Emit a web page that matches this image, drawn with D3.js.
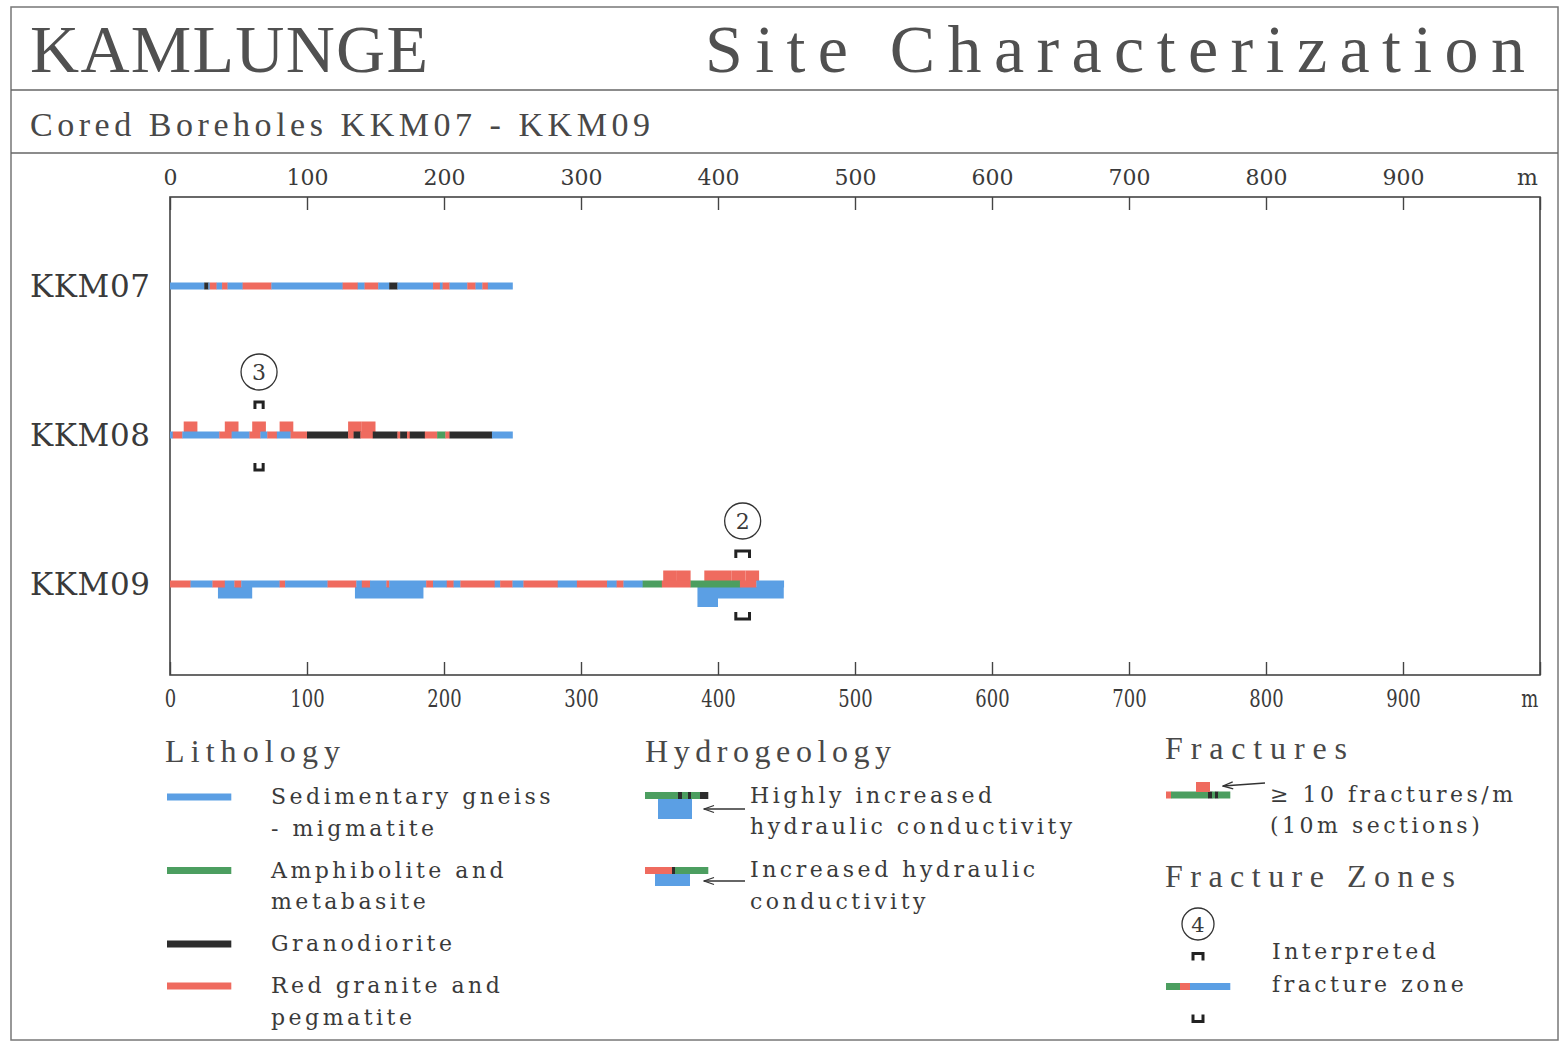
<!DOCTYPE html>
<html>
<head>
<meta charset="utf-8">
<script src="https://cdn.jsdelivr.net/npm/d3@7"></script>
<style>
body { margin: 0; background: #fff; }
text { fill: #3a3a3a; }
</style>
</head>
<body>
<div id="chart"></div>
<script>
// rock codes: S sedimentary gneiss, A amphibolite, G granodiorite, R red granite
const boreholes = ['KKM07', 'KKM08', 'KKM09'];
const axisTicks = [0, 100, 200, 300, 400, 500, 600, 700, 800, 900, 1000];

const kkm07Litho = [[0,25,'S'],[25,28,'G'],[28,29,'S'],[29,34,'R'],[34,38,'S'],[38,42,'R'],[42,53,'S'],
  [53,74,'R'],[74,126,'S'],[126,137,'R'],[137,142,'S'],[142,152,'R'],[152,160,'S'],[160,166,'G'],
  [166,192,'S'],[192,197,'R'],[197,199,'S'],[199,204,'R'],[204,217,'S'],[217,223,'R'],[223,228,'S'],
  [228,232,'R'],[232,250,'S']];
const kkm08Litho = [[0,2,'S'],[2,9,'R'],[9,36,'S'],[36,45,'R'],[45,58,'S'],[58,66,'R'],[66,71,'S'],
  [71,78,'R'],[78,88,'S'],[88,100,'R'],[100,130,'G'],[130,134,'R'],[134,139,'G'],[139,148,'R'],
  [148,166,'G'],[166,168,'R'],[168,173,'G'],[173,175,'R'],[175,186,'G'],[186,195,'R'],[195,201,'A'],
  [201,204,'R'],[204,235,'G'],[235,250,'S']];
const kkm09Litho = [[0,15,'R'],[15,31,'S'],[31,40,'R'],[40,47,'S'],[47,52,'R'],[52,80,'S'],[80,84,'R'],
  [84,115,'S'],[115,136,'R'],[136,140,'S'],[140,146,'R'],[146,158,'S'],[158,160,'R'],[160,187,'S'],
  [187,192,'R'],[192,202,'S'],[202,207,'R'],[207,212,'S'],[212,237,'R'],[237,241,'S'],[241,250,'R'],
  [250,258,'S'],[258,283,'R'],[283,297,'S'],[297,319,'R'],[319,326,'S'],[326,331,'R'],[331,345,'S'],
  [345,359,'A'],[359,380,'R'],[380,416,'A'],[416,428,'R'],[428,448,'S']];

// start of 10 m sections with >= 10 fractures/m
const kkm07Fract = [];
const kkm08Fract = [10, 40, 60, 80, 130, 140];
const kkm09Fract = [360, 370, 390, 400, 410, 420];

// hydraulic conductivity: 'inc' increased, 'high' highly increased
const kkm07Hydro = [];
const kkm08Hydro = [];
const kkm09Hydro = [[35,60,'inc'],[135,185,'inc'],[385,400,'high'],[400,448,'inc']];

const fractureZones = [
  {hole: 'KKM08', from: 62, to: 68, id: 3},
  {hole: 'KKM09', from: 413, to: 423, id: 2}
];

const lithoLegend = [
  {rock: 'S', lines: ['Sedimentary gneiss', '- migmatite']},
  {rock: 'A', lines: ['Amphibolite and', 'metabasite']},
  {rock: 'G', lines: ['Granodiorite']},
  {rock: 'R', lines: ['Red granite and', 'pegmatite']}
];
// legend samples, in sample units (0..64)
const hydroHighSample = [[0,33,'A'],[33,37,'G'],[37,43,'A'],[43,46,'G'],[46,55,'A'],[55,63,'G']];
const hydroIncSample = [[0,27,'R'],[27,30,'G'],[30,63,'A']];
const fractSample = [[0,5,'R'],[5,42,'A'],[42,46,'G'],[46,49,'A'],[49,52,'G'],[52,64,'A']];
const zoneSample = [[0,14,'A'],[14,24,'R'],[24,64,'S']];

const rockColor = {S: '#5b9fe4', A: '#4c9e60', G: '#2d2d2d', R: '#ef6b5f'};
const holes = {
  KKM07: {litho: kkm07Litho, fract: kkm07Fract, hydro: kkm07Hydro},
  KKM08: {litho: kkm08Litho, fract: kkm08Fract, hydro: kkm08Hydro},
  KKM09: {litho: kkm09Litho, fract: kkm09Fract, hydro: kkm09Hydro}
};

const serif = 'DejaVu Serif';
const thin = 'Liberation Serif';
const coreH = 7;

var svg = d3.select('#chart').append('svg')
    .attr('width', 1562).attr('height', 1044);

svg.append('defs').append('marker')
    .attr('id', 'arrow').attr('viewBox', '-11 -5 12 10')
    .attr('refX', 0).attr('refY', 0)
    .attr('markerWidth', 12).attr('markerHeight', 10)
    .attr('markerUnits', 'userSpaceOnUse').attr('orient', 'auto')
    .append('path').attr('d', 'M-10,-3.5L0,0L-10,3.5')
    .attr('fill', 'none').attr('stroke', '#333').attr('stroke-width', 1.3);

// header frame
svg.append('rect').attr('x', 11).attr('y', 7).attr('width', 1547).attr('height', 1033)
    .attr('fill', 'none').attr('stroke', '#777').attr('stroke-width', 1.5);
[90, 153].forEach((yy) => {
    svg.append('line').attr('x1', 11).attr('x2', 1558).attr('y1', yy).attr('y2', yy)
        .attr('stroke', '#666').attr('stroke-width', 1.5);
});
svg.append('text').attr('x', 30).attr('y', 72).attr('font-family', thin).attr('font-size', 68)
    .style('fill', '#505050')
    .attr('textLength', 398).attr('lengthAdjust', 'spacing').text('KAMLUNGE');
svg.append('text').attr('x', 705).attr('y', 72).attr('font-family', thin).attr('font-size', 68)
    .style('fill', '#505050')
    .attr('textLength', 820).attr('lengthAdjust', 'spacing').text('Site Characterization');
svg.append('text').attr('x', 30).attr('y', 136).attr('font-family', thin).attr('font-size', 34)
    .style('fill', '#484848')
    .attr('textLength', 620).attr('lengthAdjust', 'spacing').text('Cored Boreholes KKM07 - KKM09');

// scales
var x = d3.scaleLinear().domain([0, 1000]).range([170, 1540]);
var y = d3.scalePoint().domain(boreholes).range([286, 584]);

svg.append('rect').attr('x', x(0)).attr('y', 197).attr('width', x(1000) - x(0)).attr('height', 478)
    .attr('fill', 'none').attr('stroke', '#444').attr('stroke-width', 1.6);

const fmt = (d) => d === 1000 ? 'm' : d;
var topAxis = svg.append('g').attr('transform', 'translate(0,197)')
    .call(d3.axisTop(x).tickValues(axisTicks).tickSize(-13).tickPadding(12).tickFormat(fmt));
var bottomAxis = svg.append('g').attr('transform', 'translate(0,675)')
    .call(d3.axisBottom(x).tickValues(axisTicks).tickSize(-13).tickPadding(14).tickFormat(fmt));
[topAxis, bottomAxis].forEach((ax) => {
    ax.select('.domain').remove();
    ax.selectAll('.tick line').attr('stroke', '#444').attr('stroke-width', 1.4);
    ax.selectAll('.tick text').attr('fill', '#3a3a3a').attr('font-family', serif);
});
topAxis.selectAll('.tick text').attr('font-size', 22);
bottomAxis.selectAll('.tick text').attr('font-size', 25).attr('transform', 'scale(0.72,1)');
topAxis.selectAll('.tick').filter((d) => d === 1000).select('text').attr('dx', -13);
bottomAxis.selectAll('.tick').filter((d) => d === 1000).select('text').attr('dx', -15);

// borehole labels
svg.append('g').selectAll('text').data(boreholes).enter().append('text')
    .attr('x', 30).attr('y', (d) => y(d) + 11)
    .attr('font-family', serif).attr('font-size', 31)
    .attr('textLength', 120).attr('lengthAdjust', 'spacing')
    .text((d) => d);

// boreholes
boreholes.forEach((h) => {
    const g = svg.append('g');
    const cy = y(h);
    g.selectAll('.fract').data(holes[h].fract).enter().append('rect')
        .attr('class', 'fract')
        .attr('x', (d) => x(d)).attr('width', (d) => x(d + 10) - x(d))
        .attr('y', cy - coreH / 2 - 10).attr('height', 10.5)
        .attr('fill', rockColor.R);
    g.selectAll('.hydro').data(holes[h].hydro).enter().append('rect')
        .attr('class', 'hydro')
        .attr('x', (d) => x(d[0])).attr('width', (d) => x(d[1]) - x(d[0]))
        .attr('y', cy + coreH / 2 - 0.5).attr('height', (d) => d[2] === 'high' ? 20 : 11.5)
        .attr('fill', rockColor.S);
    g.selectAll('.litho').data(holes[h].litho).enter().append('rect')
        .attr('class', 'litho')
        .attr('x', (d) => x(d[0])).attr('width', (d) => x(d[1]) - x(d[0]) + 0.3)
        .attr('y', cy - coreH / 2).attr('height', coreH)
        .attr('fill', (d) => rockColor[d[2]]);
});

function bracket(g, x0, x1, cy, up) {
    const a = up ? cy - 33 : cy + 35, b = up ? cy - 26 : cy + 28;
    g.append('path')
        .attr('d', `M${x0},${b}V${a}H${x1}V${b}`)
        .attr('fill', 'none').attr('stroke', '#222').attr('stroke-width', 3);
}

// fracture zones
fractureZones.forEach((z) => {
    const g = svg.append('g');
    const cy = y(z.hole);
    const cx = x((z.from + z.to) / 2);
    g.append('circle').attr('cx', cx).attr('cy', cy - 63).attr('r', 18)
        .attr('fill', 'none').attr('stroke', '#333').attr('stroke-width', 1.3);
    g.append('text').attr('x', cx).attr('y', cy - 55).attr('text-anchor', 'middle')
        .attr('font-family', serif).attr('font-size', 22).text(z.id);
    bracket(g, x(z.from), x(z.to), cy, true);
    bracket(g, x(z.from), x(z.to), cy, false);
});

// ---------- legend ----------
function title(tx, ty, txt, len) {
    svg.append('text').attr('x', tx).attr('y', ty).attr('font-family', thin).attr('font-size', 32)
        .style('fill', '#484848')
        .attr('textLength', len).attr('lengthAdjust', 'spacing').text(txt);
}
function label(tx, ty, txt) {
    svg.append('text').attr('x', tx).attr('y', ty).attr('font-family', serif).attr('font-size', 22)
        .attr('letter-spacing', 3.5).text(txt);
}
function sample(x0, cy, segs) {
    const s = d3.scaleLinear().domain([0, 64]).range([x0, x0 + 64]);
    svg.append('g').selectAll('rect').data(segs).enter().append('rect')
        .attr('x', (d) => s(d[0])).attr('width', (d) => s(d[1]) - s(d[0]) + 0.3)
        .attr('y', cy - coreH / 2).attr('height', coreH)
        .attr('fill', (d) => rockColor[d[2]]);
    return s;
}
function arrow(x1, y1, x2, y2) {
    svg.append('line').attr('x1', x1).attr('y1', y1).attr('x2', x2).attr('y2', y2)
        .attr('stroke', '#333').attr('stroke-width', 1.3).attr('marker-end', 'url(#arrow)');
}

// Lithology
title(165, 762, 'Lithology', 175);
let ly = 796;
lithoLegend.forEach((item) => {
    sample(167, ly + 1, [[0, 64, item.rock]]);
    item.lines.forEach((t, i) => label(271, ly + 8 + i * 31.5, t));
    ly += item.lines.length * 31.5 + 10.5;
});

// Hydrogeology
title(645, 762, 'Hydrogeology', 246);
let s1 = sample(645, 795.5, hydroHighSample);
svg.append('rect').attr('x', s1(13)).attr('width', s1(47) - s1(13))
    .attr('y', 799).attr('height', 20).attr('fill', rockColor.S);
arrow(745, 809, 704, 809);
label(750, 803, 'Highly increased');
label(750, 834, 'hydraulic conductivity');

let s2 = sample(645, 870.5, hydroIncSample);
svg.append('rect').attr('x', s2(10)).attr('width', s2(45) - s2(10))
    .attr('y', 874).attr('height', 12).attr('fill', rockColor.S);
arrow(745, 881, 704, 881);
label(750, 877, 'Increased hydraulic');
label(750, 909, 'conductivity');

// Fractures
title(1165, 759, 'Fractures', 182);
let s3 = sample(1166, 795, fractSample);
svg.append('rect').attr('x', s3(30)).attr('width', s3(44) - s3(30))
    .attr('y', 782).attr('height', 10).attr('fill', rockColor.R);
arrow(1265, 783, 1223, 786);
label(1270, 802, '\u2265 10 fractures/m');
label(1270, 833, '(10m  sections)');

// Fracture zones
title(1165, 887, 'Fracture Zones', 290);
let s4 = sample(1166, 986.5, zoneSample);
const zc = s4(32);
svg.append('circle').attr('cx', zc).attr('cy', 924).attr('r', 16)
    .attr('fill', 'none').attr('stroke', '#333').attr('stroke-width', 1.3);
svg.append('text').attr('x', zc).attr('y', 932).attr('text-anchor', 'middle')
    .attr('font-family', serif).attr('font-size', 21).text('4');
bracket(svg, zc - 5, zc + 5, 986.5, true);
bracket(svg, zc - 5, zc + 5, 986.5, false);
label(1272, 959, 'Interpreted');
label(1272, 992, 'fracture zone');
</script>
</body>
</html>
